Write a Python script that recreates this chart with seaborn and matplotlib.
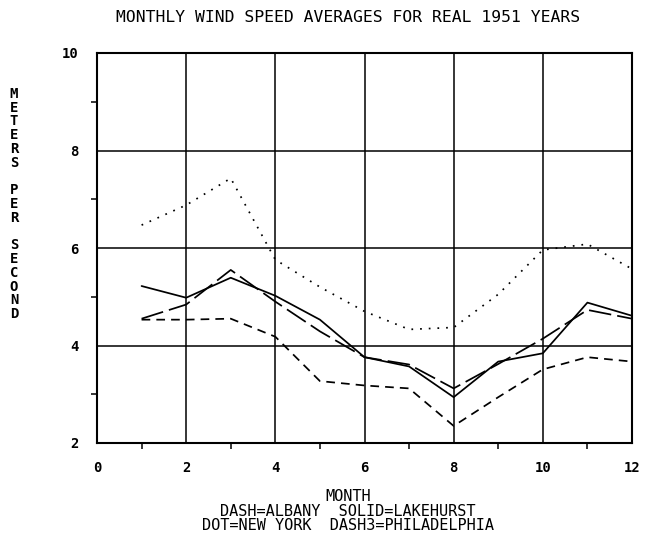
import matplotlib
matplotlib.use("Agg")
import matplotlib.pyplot as plt
import seaborn as sns
import pandas as pd
from matplotlib.ticker import MultipleLocator

months = [1, 2, 3, 4, 5, 6, 7, 8, 9, 10, 11, 12]
albany = [4.53, 4.53, 4.55, 4.18, 3.27, 3.18, 3.12, 2.35, 2.94, 3.51, 3.76, 3.67]
lakehurst = [5.22, 4.98, 5.39, 5.02, 4.53, 3.76, 3.57, 2.94, 3.67, 3.84, 4.88, 4.61]
new_york = [6.47, 6.88, 7.43, 5.76, 5.20, 4.70, 4.33, 4.37, 5.05, 5.96, 6.08, 5.57]
philadelphia = [4.55, 4.84, 5.55, 4.90, 4.29, 3.76, 3.61, 3.12, 3.62, 4.14, 4.73, 4.55]

x_ticks = [0, 2, 4, 6, 8, 10, 12]
y_ticks = [2, 4, 6, 8, 10]

title = "MONTHLY WIND SPEED AVERAGES FOR REAL 1951 YEARS"
ylabel = "METERS PER SECOND"
xlabel_lines = ["MONTH", "DASH=ALBANY  SOLID=LAKEHURST", "DOT=NEW YORK  DASH3=PHILADELPHIA"]

df = pd.concat([
    pd.DataFrame({"month": months, "speed": albany, "city": "ALBANY"}),
    pd.DataFrame({"month": months, "speed": lakehurst, "city": "LAKEHURST"}),
    pd.DataFrame({"month": months, "speed": new_york, "city": "NEW YORK"}),
    pd.DataFrame({"month": months, "speed": philadelphia, "city": "PHILADELPHIA"}),
])

sns.set_theme(style="white")
plt.rcParams["font.family"] = ["DejaVu Sans Mono", "DejaVu Sans"]

fig = plt.figure(figsize=(6.46, 5.45), dpi=100)
W, H = 646, 545
ax = fig.add_axes([97 / W, 1 - 443 / H, 535 / W, 390 / H])

dashes = {
    "ALBANY": (5, 3.5),
    "LAKEHURST": "",
    "NEW YORK": (1, 4),
    "PHILADELPHIA": (13, 3.5),
}
sns.lineplot(data=df, x="month", y="speed", style="city", dashes=dashes,
             color="black", linewidth=1.25, legend=False, ax=ax,
             estimator=None, sort=False)

ax.set_xlim(0, 12)
ax.set_ylim(2, 10)
ax.set_xticks(x_ticks)
ax.set_yticks(y_ticks)
ax.xaxis.set_minor_locator(MultipleLocator(1))
ax.yaxis.set_minor_locator(MultipleLocator(1))
ax.grid(True, which="major", color="black", linewidth=1.1)
ax.tick_params(which="major", length=0, pad=13, labelsize=10, colors="black")
ax.tick_params(which="minor", length=4, width=1.1, direction="out",
               bottom=True, left=True, color="black")
for lab in ax.get_xticklabels() + ax.get_yticklabels():
    lab.set_fontweight("bold")
for sp in ax.spines.values():
    sp.set_color("black")
    sp.set_linewidth(1.5)
ax.set_xlabel("")
ax.set_ylabel("")

fig.text(348 / W, 1 - 18 / H, title, ha="center", va="center", fontsize=11.8,
         color="black")
fig.text(14 / W, 1 - 204 / H, "\n".join(ylabel), ha="center",
         va="center", fontsize=10, fontweight="bold", linespacing=0.98,
         color="black")
fig.text(348 / W, 1 - 511 / H, "\n".join(xlabel_lines), ha="center", va="center",
         multialignment="center", fontsize=11, linespacing=0.92, color="black")

fig.savefig("out.png", dpi=100, facecolor="white")
